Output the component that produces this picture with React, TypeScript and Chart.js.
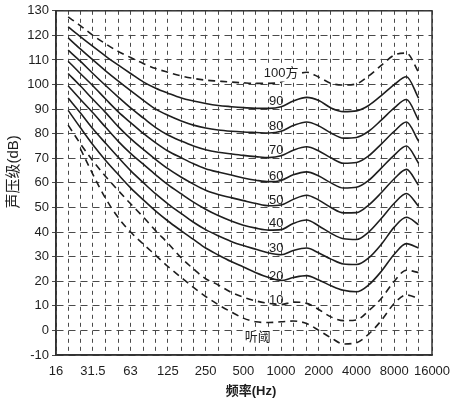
import React, { useEffect, useRef } from 'react';
import { Chart, registerables } from 'chart.js';

Chart.register(...registerables);

// 1/3-octave frequencies (Hz) at which the contours are read
const freqs = [20, 25, 31.5, 40, 50, 63, 80, 100, 125, 160, 200, 250, 315, 400, 500, 630, 800, 1000, 1250, 1600, 2000, 2500, 3150, 4000, 5000, 6300, 8000, 10000, 12500];
// vertical grid lines (1/3 octave) and octave tick labels
const gridFreqs = [16, 20, 25, 31.5, 40, 50, 63, 80, 100, 125, 160, 200, 250, 315, 400, 500, 630, 800, 1000, 1250, 1600, 2000, 2500, 3150, 4000, 5000, 6300, 8000, 10000, 12500, 16000];
const octaveLabels = ['16', '31.5', '63', '125', '250', '500', '1000', '2000', '4000', '8000', '16000'];
const yTickValues = [-10, 0, 10, 20, 30, 40, 50, 60, 70, 80, 90, 100, 110, 120, 130];

// sound pressure level (dB) per contour
const phon100 = [127.5, 124, 120, 116.5, 113.5, 111, 108.5, 106.5, 105, 103.5, 102.5, 101.8, 101.4, 101, 100.7, 100.5, 100.5, 101, 103.5, 105, 103, 100.5, 99.8, 100.3, 103.5, 107.8, 112, 112.8, 105];
const phon90 = [123.5, 119.5, 115.5, 111.5, 108, 104.5, 101, 98.5, 96.5, 94.5, 93.3, 92.3, 91.5, 91, 90.6, 90.3, 90.3, 91, 93.3, 94.8, 93.5, 90.5, 89, 89.3, 91.5, 95.5, 100, 103.2, 94.5];
const phon80 = [119, 114.5, 110, 105.5, 101.5, 97.5, 93.5, 90, 87.5, 85.2, 83.5, 82.3, 81.5, 81, 80.7, 80.5, 80.3, 81, 83.3, 84.8, 83.2, 80.3, 78.2, 78.5, 81, 85.5, 90.5, 93.9, 85.5];
const phon70 = [114, 109.5, 104.5, 99.5, 95, 90.5, 86.3, 82.5, 79.5, 77, 75, 73.5, 72.5, 71.8, 71.2, 70.7, 70.3, 71, 73.3, 74.7, 73, 70.2, 68, 68.3, 71, 75.8, 81, 84.8, 77];
const phon60 = [109.5, 104.5, 99.5, 94, 89, 84.5, 80, 76.3, 73, 70.2, 67.8, 65.8, 64.4, 63.2, 62, 61.1, 60.5, 61, 63.3, 64.5, 62.8, 60, 57.9, 58.2, 61, 66, 71.3, 75, 68];
const phon50 = [104.5, 99.5, 94, 88.5, 83, 78, 73.5, 69.5, 65.8, 62.3, 59.5, 57, 55.3, 54, 52.8, 51.6, 50.7, 51, 53.3, 55, 53, 50, 47.8, 47.9, 51, 56, 61.7, 65.5, 59];
const phon40 = [99.5, 94, 88.5, 82.5, 77, 72, 67.5, 63.3, 59.3, 55.5, 52.2, 49.3, 46.7, 44.5, 42.8, 41.6, 40.8, 41, 43.5, 44.9, 42.5, 39.5, 37.3, 37, 40, 45.5, 51.7, 55.7, 50.5];
const phon30 = [94.5, 88.5, 82, 76, 70.5, 65, 60, 55.5, 51.5, 47.5, 44, 41, 38.5, 36.2, 34.5, 33, 31.5, 30.8, 32.5, 33.5, 31.5, 29, 27, 26.8, 29.5, 35, 42, 46, 43];
const phon20 = [89.5, 82.5, 75.5, 69, 63.5, 58, 53, 48.5, 44.5, 40.5, 37, 33.5, 30.7, 28, 25.8, 23.5, 21.5, 20.3, 21.5, 22.3, 20.5, 18.2, 16.3, 15.7, 18.5, 24, 31, 35.3, 33.5];
const phon10 = [83.5, 76, 69, 62.5, 57, 51.5, 46, 40.5, 35.5, 29.5, 25, 21, 18.5, 15.5, 13.5, 12, 11, 10.5, 11.5, 11, 8.5, 5.5, 4, 4.3, 8, 13, 20, 24.5, 23.5];
const threshold = [null, 74, 63.5, 53.5, 46, 40, 35, 30.5, 26, 21.5, 17.5, 13.8, 10.5, 7.5, 5, 3.5, 3.2, 3.5, 3.8, 2.8, 0, -3, -5.5, -5, -1.5, 4, 11, 14.4, 13];

const curveSeries: (number | null)[][] = [phon100, phon90, phon80, phon70, phon60, phon50, phon40, phon30, phon20, phon10, threshold];
const curveDashed = [true, false, false, false, false, false, false, false, false, true, true];

// contour labels
const labelTexts = ['100方', '90', '80', '70', '60', '50', '40', '30', '20', '10', '听阈'];
const labelFreqs = [1000, 915, 915, 915, 915, 915, 915, 915, 915, 915, 650];
const labelDbs = [104.5, 93, 83.1, 73.3, 62.8, 53, 43.5, 33.4, 21.8, 12.4, -2.7];

// axis titles
const xTitle = '频率(Hz)';
const yTitle = '声压级(dB)';

const FONT = "'Liberation Sans', Arial, 'Noto Sans CJK SC', sans-serif";
const INK = '#1e1e1e';
const GRID = '#4a4a4a';

export default function App() {
  const ref = useRef<HTMLCanvasElement>(null);

  useEffect(() => {
    const canvas = ref.current;
    if (!canvas) return;

    const datasets = curveSeries.map((vals, k) => ({
      label: labelTexts[k],
      data: freqs
        .map((f, i) => ({ x: f, y: vals[i] }))
        .filter((p) => p.y !== null),
      borderColor: INK,
      borderWidth: 1.6,
      borderDash: curveDashed[k] ? [7, 5] : [],
      pointRadius: 0,
      cubicInterpolationMode: 'monotone' as const,
      fill: false,
    }));

    const framePlugin = {
      id: 'frame',
      afterDatasetsDraw(chart: any) {
        const { ctx, chartArea } = chart;
        ctx.save();
        ctx.strokeStyle = '#333';
        ctx.lineWidth = 1.5;
        ctx.setLineDash([]);
        ctx.strokeRect(chartArea.left, chartArea.top, chartArea.right - chartArea.left, chartArea.bottom - chartArea.top);
        ctx.restore();
      },
    };

    const labelPlugin = {
      id: 'contourLabels',
      afterDatasetsDraw(chart: any) {
        const { ctx, chartArea } = chart;
        const xs = chart.scales.x;
        const ys = chart.scales.y;
        ctx.save();
        ctx.font = `13px ${FONT}`;
        ctx.textAlign = 'center';
        ctx.textBaseline = 'middle';
        labelTexts.forEach((t, i) => {
          const px = xs.getPixelForValue(labelFreqs[i]);
          const py = ys.getPixelForValue(labelDbs[i]);
          if (i === 0 || i === labelTexts.length - 1) {
            const w = ctx.measureText(t).width;
            ctx.fillStyle = '#fff';
            ctx.fillRect(px - w / 2 - 2, py - 8, w + 4, 16);
          }
          ctx.fillStyle = INK;
          ctx.fillText(t, px, py);
        });
        // axis titles
        ctx.fillStyle = INK;
        ctx.font = `bold 13px ${FONT}`;
        ctx.fillText(xTitle, (chartArea.left + chartArea.right) / 2 + 7, chart.height - 10);
        ctx.save();
        ctx.translate(14, (chartArea.top + chartArea.bottom) / 2 - 11);
        ctx.rotate(-Math.PI / 2);
        ctx.font = `15px ${FONT}`;
        ctx.fillText(yTitle, 0, 0);
        ctx.restore();
        ctx.restore();
      },
    };

    const chart = new Chart(canvas, {
      type: 'line',
      data: { datasets: datasets as any },
      options: {
        responsive: false,
        animation: false,
        devicePixelRatio: 1,
        layout: { padding: { top: 9, right: 40, left: 0, bottom: 0 } },
        plugins: {
          legend: { display: false },
          tooltip: { enabled: false },
        },
        scales: {
          x: {
            type: 'logarithmic',
            min: 16,
            max: 16000,
            afterBuildTicks: (axis: any) => {
              axis.ticks = gridFreqs.map((v) => ({ value: v }));
            },
            afterFit: (axis: any) => {
              axis.height = 46;
            },
            ticks: {
              autoSkip: false,
              maxRotation: 0,
              minRotation: 0,
              padding: 9,
              color: INK,
              font: { family: FONT, size: 13 },
              callback: (_v: any, index: number) => (index % 3 === 0 ? octaveLabels[index / 3] : ''),
            },
            grid: { color: GRID, lineWidth: 1, drawTicks: false },
            border: { display: true, color: '#333', width: 1.5, dash: [4, 4] },
          },
          y: {
            type: 'linear',
            min: -10,
            max: 130,
            afterBuildTicks: (axis: any) => {
              axis.ticks = yTickValues.map((v) => ({ value: v }));
            },
            afterFit: (axis: any) => {
              axis.width = 56;
            },
            ticks: {
              padding: 3,
              color: INK,
              font: { family: FONT, size: 13 },
            },
            grid: { color: GRID, lineWidth: 1, drawTicks: true, tickLength: 4 },
            border: { display: true, color: '#333', width: 1.5, dash: [7, 5] },
          },
        },
      } as any,
      plugins: [framePlugin, labelPlugin],
    });

    return () => chart.destroy();
  }, []);

  return (
    <canvas
      ref={ref}
      width={472}
      height={401}
      style={{ position: 'fixed', left: 0, top: 0, width: 472, height: 401, background: '#fff' }}
    />
  );
}
